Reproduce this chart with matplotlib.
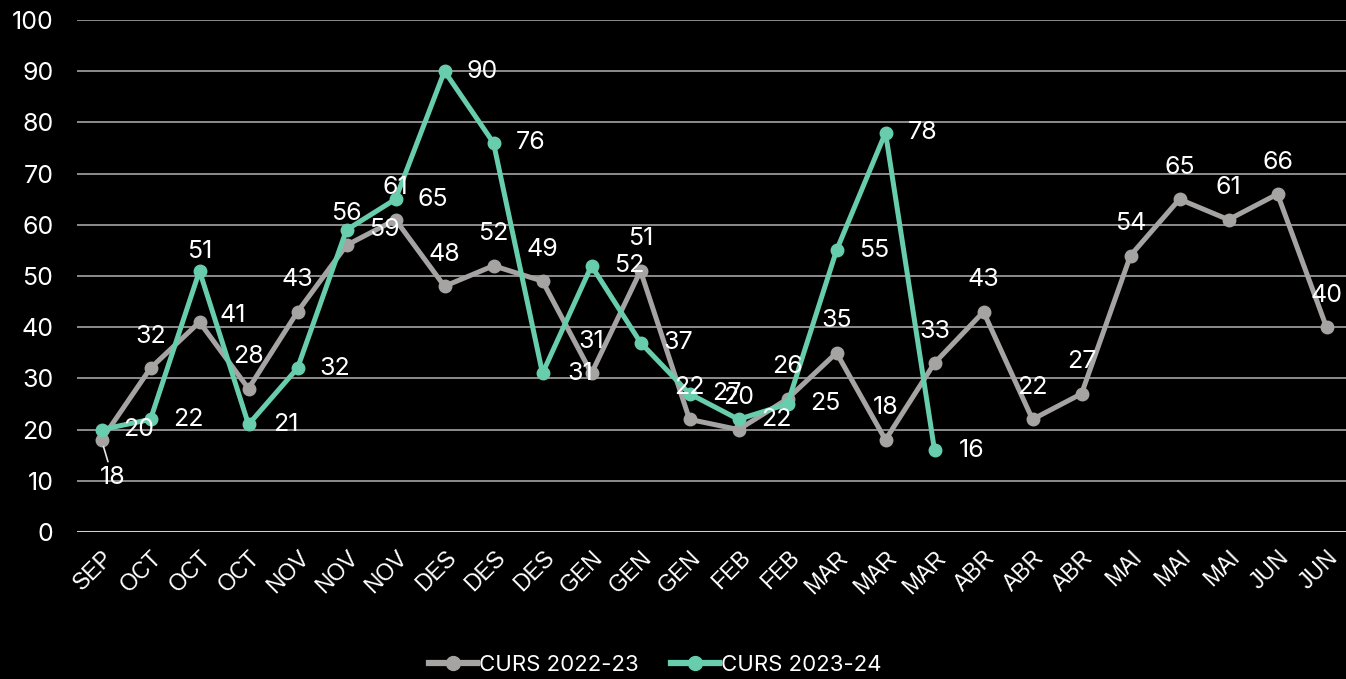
import matplotlib
matplotlib.use('Agg')
import matplotlib.pyplot as plt
import matplotlib.transforms as mtransforms
from matplotlib.lines import Line2D

months = ['SEP', 'OCT', 'OCT', 'OCT', 'NOV', 'NOV', 'NOV', 'DES', 'DES', 'DES',
          'GEN', 'GEN', 'GEN', 'FEB', 'FEB', 'MAR', 'MAR', 'MAR', 'ABR', 'ABR',
          'ABR', 'MAI', 'MAI', 'MAI', 'JUN', 'JUN']
curs_2223 = [18, 32, 41, 28, 43, 56, 61, 48, 52, 49, 31, 51, 22, 20, 26, 35,
             18, 33, 43, 22, 27, 54, 65, 61, 66, 40]
curs_2324 = [20, 22, 51, 21, 32, 59, 65, 90, 76, 31, 52, 37, 27, 22, 25, 55,
             78, 16]
series_names = ['CURS 2022-23', 'CURS 2023-24']

GREY = '#a6a3a3'
GREEN = '#67cdad'
BG = '#000000'
NUM_FONT = ['Inter', 'DejaVu Sans']

fig = plt.figure(figsize=(13.46, 6.79), dpi=100, facecolor=BG)
ax = fig.add_axes([77 / 1346, 1 - 532 / 679, 1274 / 1346, 512 / 679])
ax.set_facecolor(BG)

x_all = list(range(len(months)))

ax.set_ylim(0, 100)
ax.set_xlim(-0.5, len(months) - 0.5)
ax.set_yticks(range(0, 101, 10))
for y in range(10, 101, 10):
    ax.axhline(y, color='#8c8c8c', lw=1.4, zorder=1)
ax.axhline(0, color='#d0d0d0', lw=2.2, zorder=1)

ax.plot(x_all, curs_2223, color=GREY, lw=3.6, marker='o', ms=9, zorder=3)
ax.plot(x_all[:len(curs_2324)], curs_2324, color=GREEN, lw=3.6, marker='o',
        ms=9, zorder=4)

lbl = dict(color='white', fontsize=18, family=NUM_FONT, zorder=6,
           textcoords='offset points', ha='center', va='center')

# grey series labels sit above the point, green ones to the right
for i, v in enumerate(curs_2223):
    if i == 0:
        ax.annotate(str(v), (i, v), xytext=(8, -27),
                    arrowprops=dict(arrowstyle='-', color='#e6e6e6', lw=1.2,
                                    shrinkA=1, shrinkB=5), **lbl)
    elif i == 2:
        ax.annotate(str(v), (i, v), xytext=(24, 5), **lbl)
    else:
        ax.annotate(str(v), (i, v), xytext=(0, 23), **lbl)

for i, v in enumerate(curs_2324):
    if i == 2:
        ax.annotate(str(v), (i, v), xytext=(0, 14), **lbl)
    else:
        ax.annotate(str(v), (i, v), xytext=(27, 0), **lbl)

ax.set_xticks(x_all)
ax.set_xticklabels(months, rotation=45, ha='right', va='top',
                   rotation_mode='anchor', color='white', fontsize=16.5,
                   family=['Liberation Sans', 'DejaVu Sans'])
shift = mtransforms.ScaledTranslation(-6 / 100, 0, fig.dpi_scale_trans)
for t in ax.get_xticklabels():
    t.set_transform(t.get_transform() + shift)
ax.tick_params(axis='x', length=0, pad=10)
ax.tick_params(axis='y', length=0, pad=17, labelcolor='white', labelsize=18)
for t in ax.get_yticklabels():
    t.set_family(NUM_FONT)
for s in ax.spines.values():
    s.set_visible(False)

handles = [Line2D([], [], color=GREY, lw=4.5, marker='o', ms=10),
           Line2D([], [], color=GREEN, lw=4.5, marker='o', ms=10)]
fig.legend(handles, series_names, loc='center',
           bbox_to_anchor=(655 / 1346, 1 - 665 / 679),
           ncol=2, frameon=False, labelcolor='white', handlelength=2.15,
           handletextpad=0.1, columnspacing=1.45,
           prop={'family': NUM_FONT, 'size': 16})

fig.savefig('out.png', dpi=100, facecolor=BG)
